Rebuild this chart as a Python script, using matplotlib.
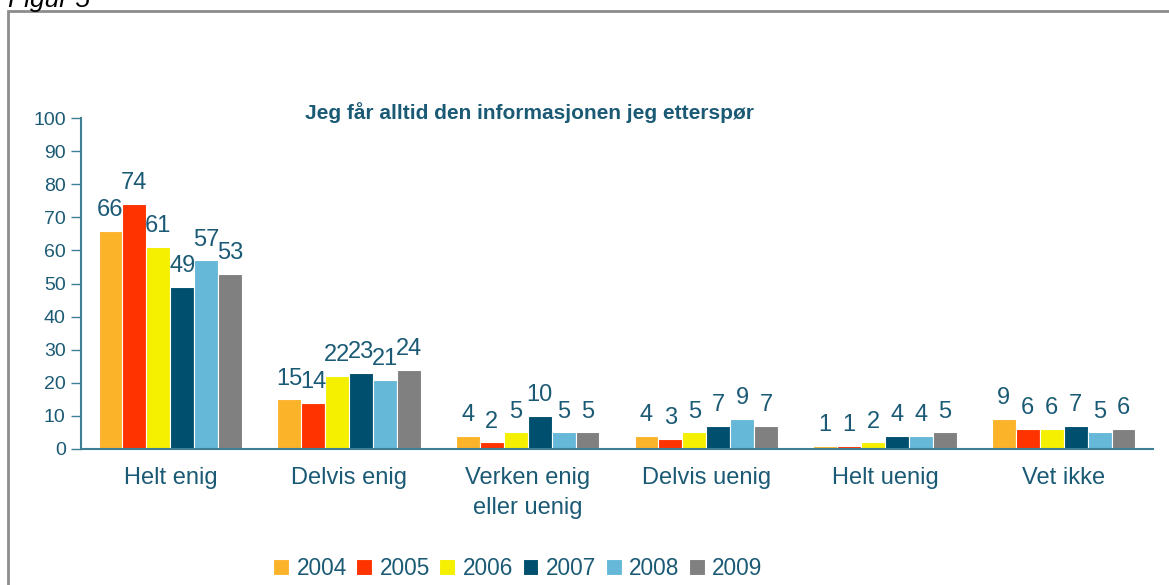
import numpy as np
from matplotlib import pyplot as plt
from matplotlib.patches import Rectangle

# Data
categories = ["Helt enig", "Delvis enig", "Verken enig\neller uenig",
              "Delvis uenig", "Helt uenig", "Vet ikke"]
years = ["2004", "2005", "2006", "2007", "2008", "2009"]
v2004 = [66, 15, 4, 4, 1, 9]
v2005 = [74, 14, 2, 3, 1, 6]
v2006 = [61, 22, 5, 5, 2, 6]
v2007 = [49, 23, 10, 7, 4, 7]
v2008 = [57, 21, 5, 9, 4, 5]
v2009 = [53, 24, 5, 7, 5, 6]
series = [v2004, v2005, v2006, v2007, v2008, v2009]
colors = ["#FBB32A", "#FF3300", "#F5F000", "#004F6E", "#66B8D8", "#808080"]

text_col = "#1B5A75"
axis_col = "#3E7F96"

plt.rcParams['font.family'] = ['Liberation Sans', 'DejaVu Sans']

fig = plt.figure(figsize=(11.69, 5.85), dpi=100)
ax = fig.add_axes([0.0693, 0.2325, 0.917, 0.5655])

#Bars
x = np.arange(len(categories))
width = 0.134
for i, (vals, col, yr) in enumerate(zip(series, colors, years)):
    pos = x + (i - 2.5) * width
    bars = ax.bar(pos, vals, width, color=col, edgecolor='white', linewidth=0.8, label=yr)
    for b, v in zip(bars, vals):
        ax.annotate(str(v), (b.get_x() + b.get_width() / 2, v), xytext=(0, 7),
                    textcoords='offset points', ha='center', va='bottom',
                    fontsize=17, color=text_col)

#Axes
ax.set_xlim(-0.5, len(categories) - 0.5)
ax.set_ylim(0, 100)
ax.set_yticks(range(0, 101, 10))
ax.set_xticks(x)
ax.set_xticklabels(categories, fontsize=17, color=text_col, linespacing=1.45)
ax.tick_params(axis='x', length=0, pad=13)
ax.tick_params(axis='y', length=7, width=1, color=axis_col, labelsize=14, labelcolor=text_col, pad=4)
for s in ['top', 'right']:
    ax.spines[s].set_visible(False)
for s in ['left', 'bottom']:
    ax.spines[s].set_color(axis_col)
    ax.spines[s].set_linewidth(1.5)

#Title and legend
fig.text(0.453, 0.8085, "Jeg får alltid den informasjonen jeg etterspør", ha='center', va='center',
         fontsize=15, fontweight='bold', color=text_col)
leg = fig.legend(loc='center', bbox_to_anchor=(0.443, 0.029), ncol=6, frameon=False,
                 fontsize=16.3, handlelength=0.7, handleheight=0.7, handletextpad=0.33,
                 columnspacing=0.42, borderaxespad=0)
for t in leg.get_texts():
    t.set_color(text_col)

#Frame and figure caption
fig.patches.append(Rectangle((8 / 1169, -0.1), 1.2, 1 - 11 / 585 + 0.1, transform=fig.transFigure,
                             fill=False, edgecolor='#8C8C8C', linewidth=2))
fig.text(8 / 1169, 1 - 6.5 / 585, "Figur 5", ha='left', va='baseline', fontsize=19,
         fontstyle='italic', color='black')

fig.savefig('out.png', dpi=100)
